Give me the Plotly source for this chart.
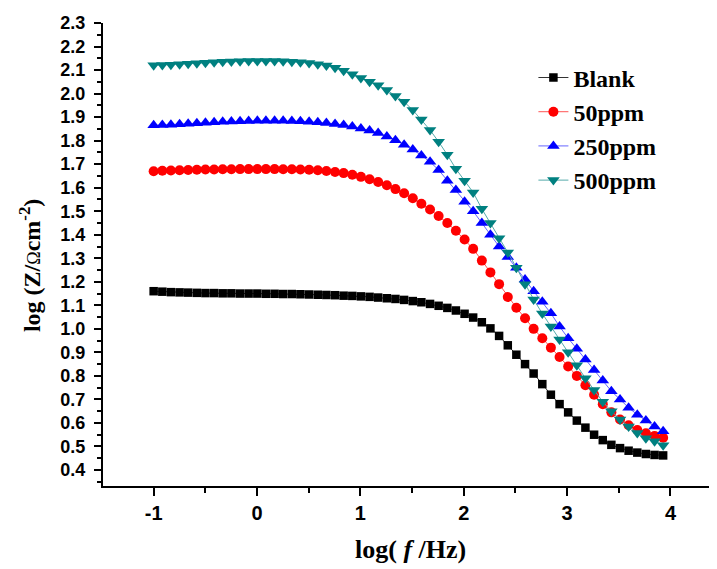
import plotly.graph_objects as go

log_f = [-1.000, -0.916, -0.833, -0.749, -0.666, -0.582, -0.499, -0.415, -0.332, -0.248,
         -0.164, -0.081, 0.003, 0.086, 0.170, 0.253, 0.337, 0.420, 0.504, 0.588,
         0.671, 0.755, 0.838, 0.922, 1.005, 1.089, 1.172, 1.256, 1.339, 1.423,
         1.507, 1.590, 1.674, 1.757, 1.841, 1.924, 2.008, 2.091, 2.175, 2.258,
         2.342, 2.426, 2.509, 2.593, 2.676, 2.760, 2.843, 2.927, 3.010, 3.094,
         3.177, 3.261, 3.345, 3.428, 3.512, 3.595, 3.679, 3.762, 3.846, 3.929]

blank = [1.160, 1.158, 1.156, 1.155, 1.154, 1.153, 1.152, 1.152, 1.151, 1.151,
         1.150, 1.150, 1.150, 1.149, 1.149, 1.148, 1.148, 1.147, 1.146, 1.145,
         1.144, 1.143, 1.141, 1.140, 1.138, 1.136, 1.133, 1.130, 1.127, 1.123,
         1.118, 1.113, 1.106, 1.098, 1.089, 1.078, 1.064, 1.048, 1.028, 1.002,
         0.970, 0.930, 0.890, 0.850, 0.810, 0.765, 0.720, 0.680, 0.645, 0.610,
         0.580, 0.550, 0.527, 0.507, 0.493, 0.482, 0.474, 0.468, 0.464, 0.462]

ppm50 = [1.670, 1.672, 1.673, 1.674, 1.675, 1.676, 1.677, 1.677, 1.678, 1.678,
         1.679, 1.679, 1.679, 1.679, 1.679, 1.678, 1.678, 1.677, 1.676, 1.674,
         1.671, 1.667, 1.662, 1.655, 1.646, 1.636, 1.624, 1.610, 1.594, 1.576,
         1.555, 1.532, 1.507, 1.480, 1.450, 1.417, 1.380, 1.340, 1.290, 1.240,
         1.190, 1.135, 1.090, 1.045, 1.000, 0.960, 0.920, 0.880, 0.840, 0.800,
         0.760, 0.720, 0.680, 0.645, 0.615, 0.590, 0.570, 0.556, 0.545, 0.537]

ppm250 = [1.865, 1.866, 1.868, 1.870, 1.872, 1.874, 1.876, 1.878, 1.880, 1.881,
          1.882, 1.883, 1.884, 1.884, 1.884, 1.884, 1.883, 1.882, 1.880, 1.878,
          1.875, 1.871, 1.866, 1.860, 1.852, 1.843, 1.832, 1.818, 1.802, 1.783,
          1.762, 1.737, 1.710, 1.675, 1.630, 1.590, 1.540, 1.500, 1.450, 1.400,
          1.350, 1.305, 1.260, 1.210, 1.160, 1.115, 1.066, 1.010, 0.960, 0.915,
          0.870, 0.825, 0.780, 0.735, 0.700, 0.665, 0.635, 0.610, 0.585, 0.565]

ppm500 = [2.120, 2.121, 2.123, 2.125, 2.127, 2.129, 2.131, 2.133, 2.135, 2.136,
          2.137, 2.138, 2.138, 2.138, 2.138, 2.137, 2.135, 2.133, 2.130, 2.125,
          2.119, 2.110, 2.097, 2.082, 2.066, 2.050, 2.035, 2.015, 1.990, 1.965,
          1.930, 1.890, 1.845, 1.795, 1.740, 1.680, 1.630, 1.580, 1.510, 1.450,
          1.385, 1.325, 1.260, 1.190, 1.125, 1.065, 1.010, 0.955, 0.900, 0.845,
          0.790, 0.740, 0.690, 0.650, 0.615, 0.585, 0.557, 0.535, 0.522, 0.505]

series_names = ["Blank", "50ppm", "250ppm", "500ppm"]
series_values = [blank, ppm50, ppm250, ppm500]
colors = ["#000000", "#FF0000", "#0000FF", "#008080"]
line_colors = ["#333333", "#FF5555", "#6666FF", "#55AAAA"]
symbols = ["square", "circle", "triangle-up", "triangle-down"]
sizes = [8.5, 10, 11, 11]

y_ticks = [0.4, 0.5, 0.6, 0.7, 0.8, 0.9, 1.0, 1.1, 1.2, 1.3, 1.4, 1.5, 1.6, 1.7,
           1.8, 1.9, 2.0, 2.1, 2.2, 2.3]
x_ticks = [-1, 0, 1, 2, 3, 4]

fig = go.Figure()
for name, vals, c, lc, s, sz in zip(series_names, series_values, colors, line_colors, symbols, sizes):
    fig.add_trace(go.Scatter(
        x=log_f, y=vals, name=name, mode="lines+markers",
        line=dict(color=lc, width=1),
        marker=dict(symbol=s, size=sz, color=c, line=dict(width=0)),
    ))

yfont = dict(family="Liberation Sans", size=18, color="black", weight="bold")
xfont = dict(family="Liberation Sans", size=20, color="black", weight="bold")
fig.update_layout(
    width=709, height=561,
    margin=dict(l=95, r=0, t=15, b=83, autoexpand=False),
    paper_bgcolor="white", plot_bgcolor="white",
    showlegend=True,
    legend=dict(x=0.701, y=0.930, xanchor="left", yanchor="top",
                font=dict(family="Liberation Serif", size=24, color="black", weight="bold"),
                bgcolor="rgba(0,0,0,0)", tracegroupgap=0, itemsizing="trace"),
    xaxis=dict(range=[-1.49, 4.45], tickvals=x_ticks, ticktext=[str(v) for v in x_ticks],
               automargin=False,
               showgrid=False, zeroline=False, showline=True, linecolor="black", linewidth=2,
               ticks="outside", ticklen=8, tickwidth=2, tickcolor="black", tickfont=xfont,
               minor=dict(dtick=0.5, tick0=0, ticks="outside", ticklen=5, tickwidth=2, tickcolor="black")),
    yaxis=dict(range=[0.332, 2.3], tickvals=y_ticks, ticktext=["%.1f" % v for v in y_ticks],
               automargin=False, ticklabelstandoff=5,
               showgrid=False, zeroline=False, showline=True, linecolor="black", linewidth=2,
               ticks="outside", ticklen=7, tickwidth=2, tickcolor="black", tickfont=yfont,
               minor=dict(dtick=0.05, tick0=0, ticks="outside", ticklen=4, tickwidth=2, tickcolor="black")),
    annotations=[
        dict(text="log (Z/<span style='font-weight:normal;font-size:18px'>Ω</span>cm<sup>-2</sup>)",
             xref="paper", yref="paper", x=-0.119, y=0.477, textangle=-90,
             xanchor="center", yanchor="middle", showarrow=False,
             font=dict(family="Liberation Serif", size=24, color="black", weight="bold")),
        dict(text="log( <i>f</i> /Hz)", xref="paper", yref="paper", x=0.50, y=-0.138,
             xanchor="center", yanchor="middle", showarrow=False,
             font=dict(family="Liberation Serif", size=26, color="black", weight="bold")),
    ],
)
fig.write_html("out.html")
